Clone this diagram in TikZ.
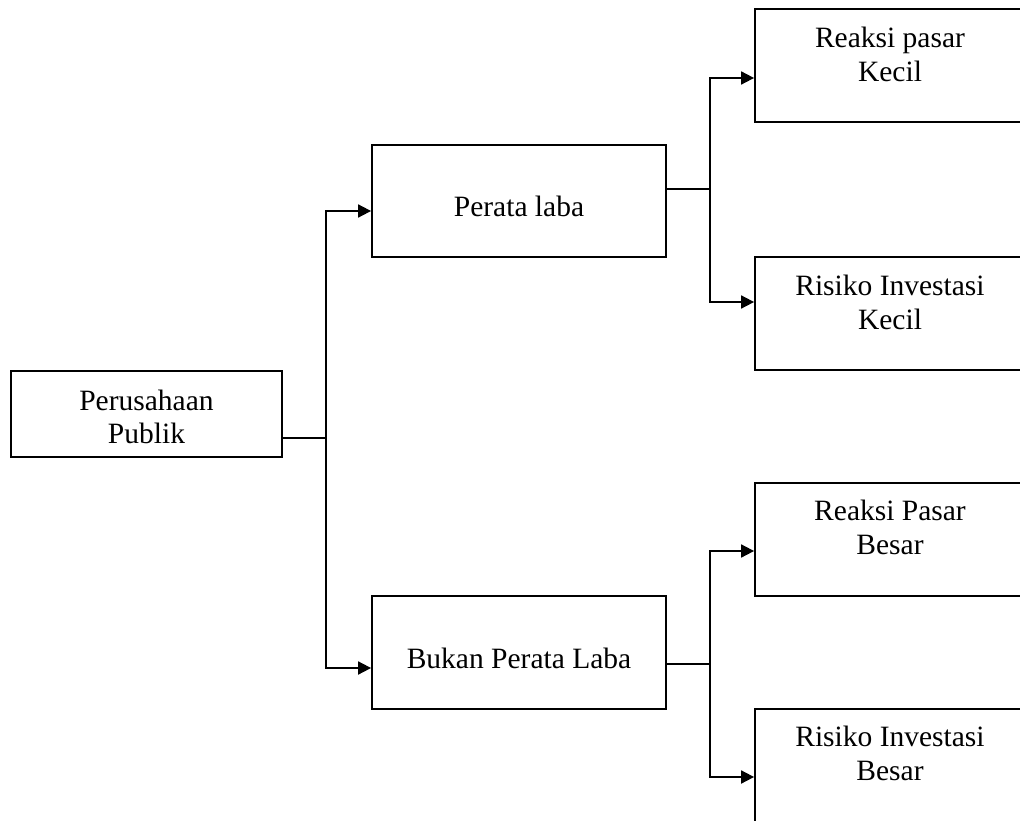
\documentclass[tikz,border=0pt]{standalone}
\usepackage{fontspec}
\setmainfont{Liberation Serif}
\usetikzlibrary{arrows.meta}
\begin{document}
\begin{tikzpicture}[x=1pt,y=-1pt,
  box/.style={draw,line width=1.8pt,rectangle,inner sep=0pt},
  lbl/.style={anchor=base,inner sep=0pt,font=\fontsize{29.5}{34}\selectfont},
  conn/.style={line width=1.8pt},
  arr/.style={conn,-{Triangle[length=13pt,width=13pt]}}]
\useasboundingbox (0,0) rectangle (1020,821);
\clip (0,0) rectangle (1020,821);
% boxes
\node[box,minimum width=271pt,minimum height=86pt] (pub) at (146.5,414) {};
\node[box,minimum width=294pt,minimum height=112pt] (pl) at (519,201) {};
\node[box,minimum width=294pt,minimum height=113pt] (bpl) at (519,652.5) {};
\node[box,minimum width=275pt,minimum height=113pt] (rk) at (892.5,65.5) {};
\node[box,minimum width=275pt,minimum height=113pt] (rik) at (892.5,313.5) {};
\node[box,minimum width=275pt,minimum height=113pt] (rb) at (892.5,539.5) {};
\node[box,minimum width=275pt,minimum height=113pt] (rib) at (892.5,765.5) {};
% texts
\node[lbl] (pub1) at (146.5,410) {Perusahaan};
\node[lbl] (pub2) at (146.5,443) {Publik};
\node[lbl] (plt) at (519,217) {Perata laba};
\node[lbl] (bplt) at (519,668) {Bukan Perata Laba};
\node[lbl] (rk1) at (890,48) {Reaksi pasar};
\node[lbl] (rk2) at (890,82) {Kecil};
\node[lbl] (rik1) at (890,295) {Risiko Investasi};
\node[lbl] (rik2) at (890,329) {Kecil};
\node[lbl] (rb1) at (890,520) {Reaksi Pasar};
\node[lbl] (rb2) at (890,554) {Besar};
\node[lbl] (rib1) at (890,746) {Risiko Investasi};
\node[lbl] (rib2) at (890,780) {Besar};
% junctions
\coordinate (j1) at (326,438);
\coordinate (j2) at (710,189);
\coordinate (j3) at (710,664);
% connectors
\draw[conn] ([yshift=-24pt]pub.east) -- (j1);
\draw[arr] (j1) |- ([yshift=-10pt]pl.west);
\draw[arr] (j1) |- ([yshift=-15.5pt]bpl.west);
\draw[conn] ([yshift=12pt]pl.east) -- (j2);
\draw[arr] (j2) |- ([yshift=-12.5pt]rk.west);
\draw[arr] (j2) |- ([yshift=11.5pt]rik.west);
\draw[conn] ([yshift=-11.5pt]bpl.east) -- (j3);
\draw[arr] (j3) |- ([yshift=-11.5pt]rb.west);
\draw[arr] (j3) |- ([yshift=-11.5pt]rib.west);
\end{tikzpicture}
\end{document}
